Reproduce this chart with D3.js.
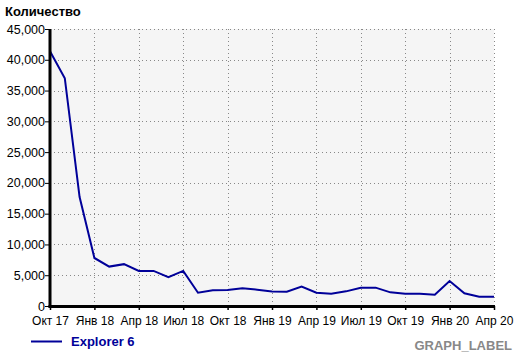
<!DOCTYPE html>
<html>
<head>
<meta charset="utf-8">
<script src="https://d3js.org/d3.v7.min.js"></script>
<style>
  body { margin: 0; background: #fff; }
  svg { display: block; font-family: "Liberation Sans", Arial, sans-serif; }
</style>
</head>
<body>
<svg id="chart" width="520" height="353"></svg>
<script>
// monthly counts, Oct 2017 .. Apr 2020
var months = ["2017-10","2017-11","2017-12","2018-01","2018-02","2018-03","2018-04","2018-05","2018-06",
  "2018-07","2018-08","2018-09","2018-10","2018-11","2018-12","2019-01","2019-02","2019-03","2019-04",
  "2019-05","2019-06","2019-07","2019-08","2019-09","2019-10","2019-11","2019-12","2020-01","2020-02",
  "2020-03","2020-04"];
var values = [41400, 37000, 17700, 7800, 6400, 6800, 5700, 5700, 4700, 5700, 2150, 2550, 2600, 2900,
  2650, 2350, 2330, 3140, 2170, 2000, 2380, 2980, 2980, 2220, 2000, 2000, 1840, 4060, 2060, 1510, 1510];
var xTickLabels = ["Окт 17","Янв 18","Апр 18","Июл 18","Окт 18","Янв 19","Апр 19","Июл 19","Окт 19","Янв 20","Апр 20"];
var yTicks = [0, 5000, 10000, 15000, 20000, 25000, 30000, 35000, 40000, 45000];
var seriesName = "Explorer 6";

var svg = d3.select("#chart");
var plotL = 50, plotR = 494, plotT = 29, plotB = 306;

var x = d3.scaleLinear().domain([0, months.length - 1]).range([plotL, plotR]);
var y = d3.scaleLinear().domain([0, 45000]).range([plotB, plotT]);
var tickIdx = xTickLabels.map(function(d, i) { return i * 3; });

// plot background
svg.append("rect")
  .attr("x", plotL).attr("y", plotT)
  .attr("width", plotR - plotL).attr("height", plotB - plotT)
  .attr("fill", "#f5f5f5");

// grid
svg.append("g").selectAll("line")
  .data(yTicks.filter(function(d) { return d > 0; }))
  .enter().append("line")
  .attr("x1", plotL).attr("x2", plotR)
  .attr("y1", function(d) { return Math.round(y(d)) + 0.5; })
  .attr("y2", function(d) { return Math.round(y(d)) + 0.5; })
  .attr("stroke", "#888").attr("stroke-dasharray", "1,3");

svg.append("g").selectAll("line")
  .data(tickIdx.slice(1))
  .enter().append("line")
  .attr("x1", function(d) { return Math.round(x(d)) + 0.5; })
  .attr("x2", function(d) { return Math.round(x(d)) + 0.5; })
  .attr("y1", plotT).attr("y2", plotB)
  .attr("stroke", "#888").attr("stroke-dasharray", "1,3");

// series line
var line = d3.line()
  .x(function(d, i) { return x(i); })
  .y(function(d) { return y(d); });

svg.append("path")
  .datum(values)
  .attr("d", line)
  .attr("fill", "none")
  .attr("stroke", "#000099")
  .attr("stroke-width", 2);

// y axis
var yAxis = d3.axisLeft(y).tickValues(yTicks).tickSize(5).tickFormat(d3.format(","));
var gy = svg.append("g").attr("transform", "translate(" + plotL + ",0)").call(yAxis);
gy.select(".domain").remove();
gy.selectAll(".tick line").attr("stroke", "#000");
gy.selectAll("text").attr("font-size", 12.5).attr("fill", "#000").attr("x", -5);
svg.append("line")
  .attr("x1", plotL).attr("x2", plotL)
  .attr("y1", plotT).attr("y2", plotB + 1.5)
  .attr("stroke", "#000").attr("stroke-width", 3);

// x axis
var xAxis = d3.axisBottom(x).tickValues(tickIdx).tickSize(4)
  .tickFormat(function(d, i) { return xTickLabels[i]; });
var gx = svg.append("g").attr("transform", "translate(0," + plotB + ")").call(xAxis);
gx.select(".domain").remove();
gx.selectAll(".tick line").attr("stroke", "#000").attr("stroke-width", 1.5);
gx.selectAll("text").attr("font-size", 12).attr("fill", "#000").attr("y", 10);
svg.append("line")
  .attr("x1", plotL - 1.5).attr("x2", plotR + 1)
  .attr("y1", plotB + 0.5).attr("y2", plotB + 0.5)
  .attr("stroke", "#000").attr("stroke-width", 3);

// title
svg.append("text")
  .attr("x", 5).attr("y", 16)
  .attr("font-size", 13).attr("font-weight", "bold")
  .text("Количество");

// legend
svg.append("line")
  .attr("x1", 31).attr("x2", 62)
  .attr("y1", 341.5).attr("y2", 341.5)
  .attr("stroke", "#000099").attr("stroke-width", 2);
svg.append("text")
  .attr("x", 71).attr("y", 346)
  .attr("font-size", 13).attr("font-weight", "bold")
  .attr("fill", "#000099")
  .text(seriesName);

svg.append("text")
  .attr("x", 512).attr("y", 350)
  .attr("text-anchor", "end")
  .attr("font-size", 13).attr("font-weight", "bold")
  .attr("fill", "#888")
  .text("GRAPH_LABEL");
</script>
</body>
</html>
